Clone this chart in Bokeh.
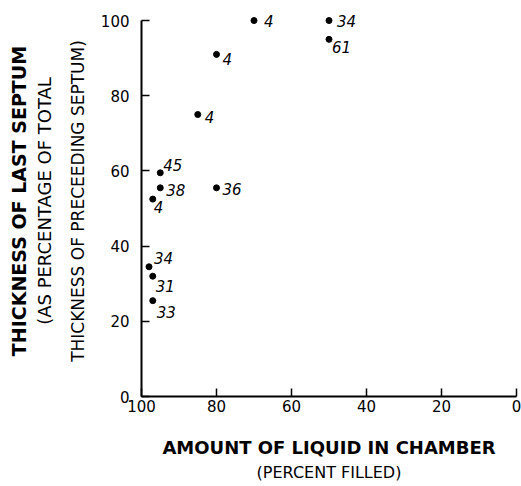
from bokeh.plotting import figure
from bokeh.models import ColumnDataSource, Range1d, FixedTicker, Title
from bokeh.core.properties import value
from bokeh.embed import file_html
from bokeh.resources import INLINE

# Data
filled = [70, 50, 50, 80, 85, 95, 95, 80, 97, 98, 97, 97]
thickness = [100, 100, 95, 91, 75, 59.5, 55.5, 55.5, 52.5, 34.5, 32, 25.5]
point_labels = ["4", "34", "61", "4", "4", "45", "38", "36", "4", "34", "31", "33"]
x_ticks = [0, 20, 40, 60, 80, 100]
y_ticks = [0, 20, 40, 60, 80, 100]

# label placement (screen pixels, style only)
label_dx = [10, 8, 3, 6, 7, 3, 6, 6, 1, 5, 3, 4]
label_dy = [0, 0, 8, 5, 2, -8, 2, 1, 8, -9, 10, 11]

src = ColumnDataSource(dict(x=filled, y=thickness, t=point_labels, dx=label_dx, dy=label_dy))

p = figure(width=521, height=486, output_backend="svg", toolbar_location=None,
           x_range=Range1d(100, 0), y_range=Range1d(0, 104),
           min_border_left=141, min_border_right=5, min_border_top=5, min_border_bottom=90)
p.outline_line_color = None
p.grid.visible = False
p.background_fill_color = "white"
p.border_fill_color = "white"

for ax, ticks in ((p.xaxis[0], x_ticks), (p.yaxis[0], y_ticks)):
    ax.ticker = FixedTicker(ticks=ticks)
    ax.bounds = (0, 100)
    ax.axis_line_color = "black"
    ax.axis_line_width = 2
    ax.major_tick_line_color = "black"
    ax.major_tick_line_width = 1.5
    ax.major_tick_in = 8
    ax.major_tick_out = 0
    ax.minor_tick_line_color = None
    ax.major_label_text_font = "DejaVu Sans"
    ax.major_label_text_font_size = "15px"
    ax.major_label_text_color = "black"
p.yaxis.major_label_standoff = 12
p.xaxis.major_label_standoff = 3

xa = p.xaxis[0]
xa.axis_label = "AMOUNT OF LIQUID IN CHAMBER"
xa.axis_label_text_font = "DejaVu Sans"
xa.axis_label_text_font_size = "18px"
xa.axis_label_text_font_style = "bold"
xa.axis_label_text_color = "black"
xa.axis_label_standoff = 22

p.scatter("x", "y", source=src, size=6, color="black")
p.text("x", "y", text="t", source=src, x_offset="dx", y_offset="dy",
       text_font=value("DejaVu Sans"), text_font_style="italic", text_font_size="15px",
       text_align="left", text_baseline="middle", text_color="black")

# left titles (innermost first)
p.add_layout(Title(text="THICKNESS OF PRECEEDING SEPTUM)", align="center",
                   text_font="DejaVu Sans", text_font_size="17px", text_font_style="normal",
                   text_color="black", standoff=19), "left")
p.add_layout(Title(text="(AS PERCENTAGE OF TOTAL", align="center",
                   text_font="DejaVu Sans", text_font_size="18px", text_font_style="normal",
                   text_color="black", standoff=3), "left")
p.add_layout(Title(text="THICKNESS OF LAST SEPTUM", align="center",
                   text_font="DejaVu Sans", text_font_size="19px", text_font_style="bold",
                   text_color="black", standoff=2), "left")

# bottom subtitle
p.add_layout(Title(text="(PERCENT FILLED)", align="center",
                   text_font="DejaVu Sans", text_font_size="16px", text_font_style="normal",
                   text_color="black", standoff=0), "below")

open("out.html", "w").write(file_html(p, INLINE))
